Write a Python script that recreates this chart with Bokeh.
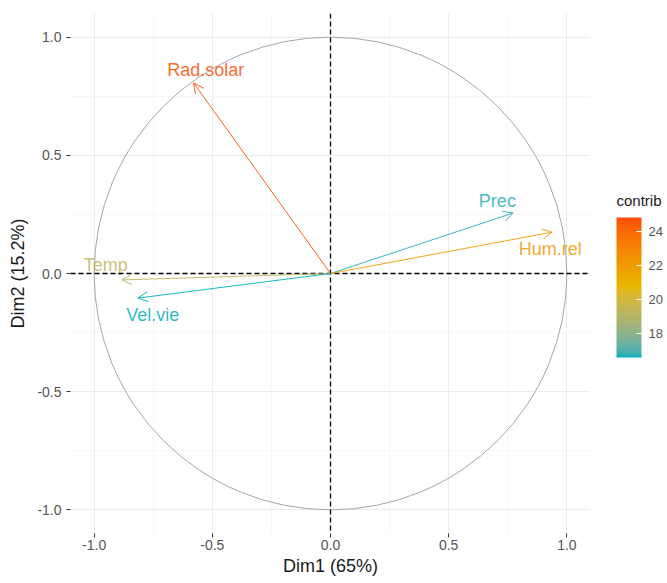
import numpy as np
from bokeh.plotting import figure
from bokeh.layouts import row
from bokeh.models import (ColumnDataSource, Arrow, OpenHead, Span, FixedTicker,
                          LinearColorMapper, ColorBar, Range1d)
from bokeh.core.properties import value
from bokeh.embed import file_html
from bokeh.resources import INLINE

# ---- data ----
variables = ["Rad.solar", "Prec", "Hum.rel", "Temp", "Vel.vie"]
dim1 = [-0.579, 0.773, 0.938, -0.883, -0.815]
dim2 = [0.806, 0.256, 0.175, -0.027, -0.104]
contrib = [24.8, 16.7, 22.0, 19.3, 16.6]
label_x = [-0.528, 0.706, 0.930, -0.951, -0.752]
label_y = [0.860, 0.306, 0.104, 0.036, -0.175]
axis_ticks = [-1.0, -0.5, 0.0, 0.5, 1.0]
axis_tick_labels = ["-1.0", "-0.5", "0.0", "0.5", "1.0"]
minor_ticks = [-0.75, -0.25, 0.25, 0.75]
legend_ticks = [18, 20, 22, 24]
legend_title = "contrib"
gradient_colors = ["#00AFBB", "#E7B800", "#FC4E07"]

# ---- Lab gradient (like ggplot's gradientn) ----
def hex2rgb(h):
    h = h.lstrip("#")
    return np.array([int(h[i:i + 2], 16) / 255 for i in (0, 2, 4)])

M = np.array([[0.4124, 0.3576, 0.1805], [0.2126, 0.7152, 0.0722], [0.0193, 0.1192, 0.9505]])
Minv = np.linalg.inv(M)
WP = np.array([0.95047, 1.0, 1.08883])

def rgb2lab(c):
    lin = np.where(c <= 0.04045, c / 12.92, ((c + 0.055) / 1.055) ** 2.4)
    xyz = M @ lin / WP
    f = np.where(xyz > 0.008856, np.cbrt(xyz), 7.787 * xyz + 16 / 116)
    return np.array([116 * f[1] - 16, 500 * (f[0] - f[1]), 200 * (f[1] - f[2])])

def lab2hex(lab):
    fy = (lab[0] + 16) / 116
    fx = fy + lab[1] / 500
    fz = fy - lab[2] / 200
    f = np.array([fx, fy, fz])
    xyz = np.where(f ** 3 > 0.008856, f ** 3, (f - 16 / 116) / 7.787) * WP
    lin = np.clip(Minv @ xyz, 0, 1)
    c = np.where(lin <= 0.0031308, 12.92 * lin, 1.055 * lin ** (1 / 2.4) - 0.055)
    c = np.clip(np.round(c * 255), 0, 255).astype(int)
    return "#%02x%02x%02x" % tuple(c)

labs = [rgb2lab(hex2rgb(h)) for h in gradient_colors]
palette = []
for t in np.linspace(0, 1, 256):
    if t <= 0.5:
        u = t / 0.5
        lab = labs[0] * (1 - u) + labs[1] * u
    else:
        u = (t - 0.5) / 0.5
        lab = labs[1] * (1 - u) + labs[2] * u
    palette.append(lab2hex(lab))

low, high = min(contrib), max(contrib)
colors = [palette[int(round((c - low) / (high - low) * 255))] for c in contrib]

FONT = "Liberation Sans"

# ---- main panel ----
p = figure(frame_width=520, frame_height=520, output_backend="svg", toolbar_location=None,
           x_range=Range1d(-1.1, 1.1), y_range=Range1d(-1.1, 1.1),
           min_border_left=70, min_border_top=13, min_border_bottom=48, min_border_right=0)
p.outline_line_color = None
p.background_fill_color = "white"

for ax in (p.xaxis, p.yaxis):
    ax.ticker = FixedTicker(ticks=axis_ticks, minor_ticks=minor_ticks)
    ax.major_label_overrides = {t: l for t, l in zip(axis_ticks, axis_tick_labels)}
    ax.axis_line_color = None
    ax.major_tick_out = 4
    ax.major_tick_in = 0
    ax.minor_tick_out = 0
    ax.minor_tick_in = 0
    ax.major_tick_line_color = "#333333"
    ax.major_label_text_font = FONT
    ax.major_label_text_font_size = "14px"
    ax.major_label_text_color = "#555555"
    ax.axis_label_text_font = FONT
    ax.axis_label_text_font_size = "18px"
    ax.axis_label_text_font_style = "normal"
    ax.axis_label_text_color = "#1a1a1a"
p.xaxis.axis_label = "Dim1 (65%)"
p.yaxis.axis_label = "Dim2 (15.2%)"
p.xaxis.major_label_standoff = 2
p.xaxis.axis_label_standoff = 3
p.yaxis.major_label_standoff = 5
p.yaxis.axis_label_standoff = 6

for g in (p.xgrid, p.ygrid):
    g.grid_line_color = "#EBEBEB"
    g.grid_line_width = 1
    g.minor_grid_line_color = "#F3F3F3"
    g.minor_grid_line_width = 0.7

# unit circle
p.circle(x=[0], y=[0], radius=1, fill_color=None, line_color="#A6A6A6", line_width=1)

# dashed zero lines
p.add_layout(Span(location=0, dimension="width", line_color="black", line_dash="5 3", line_width=1.3))
p.add_layout(Span(location=0, dimension="height", line_color="black", line_dash="5 3", line_width=1.3))

# arrows
for xe, ye, c in zip(dim1, dim2, colors):
    p.add_layout(Arrow(end=OpenHead(size=10, line_color=c, line_width=1, line_alpha=0.9),
                       x_start=0, y_start=0, x_end=xe, y_end=ye,
                       line_color=c, line_width=1, line_alpha=0.9))

src = ColumnDataSource(dict(x=label_x, y=label_y, text=variables, color=colors))
p.text(x="x", y="y", text="text", source=src, text_color="color", text_alpha=0.85,
       text_align="center", text_baseline="middle",
       text_font=value(FONT), text_font_size="18px")

# ---- legend panel (separate small figure; frame aligned with main frame) ----
leg = figure(width=77, height=583, output_backend="svg", toolbar_location=None,
             x_range=Range1d(0, 77), y_range=Range1d(0, 520),
             x_axis_location=None, y_axis_location=None,
             min_border_left=0, min_border_right=0, min_border_top=13, min_border_bottom=50)
leg.grid.visible = False
leg.outline_line_color = None

mapper = LinearColorMapper(palette=palette, low=low, high=high)
cb = ColorBar(color_mapper=mapper, ticker=FixedTicker(ticks=legend_ticks),
              width=25, height=140,
              major_label_text_font=FONT, major_label_text_font_size="13px",
              major_label_text_color="#555555",
              major_tick_line_color="white", major_tick_in=5, major_tick_out=0,
              bar_line_color=None, border_line_color=None, background_fill_color=None,
              padding=0, margin=0, label_standoff=7, location=(26, 176))
leg.add_layout(cb)
leg.text(x=[26], y=[333], text=[legend_title], text_color="#1a1a1a",
         text_align="left", text_baseline="middle",
         text_font=value(FONT), text_font_size="15px")

layout = row(p, leg, spacing=0)
open("out.html", "w").write(file_html(layout, INLINE))
